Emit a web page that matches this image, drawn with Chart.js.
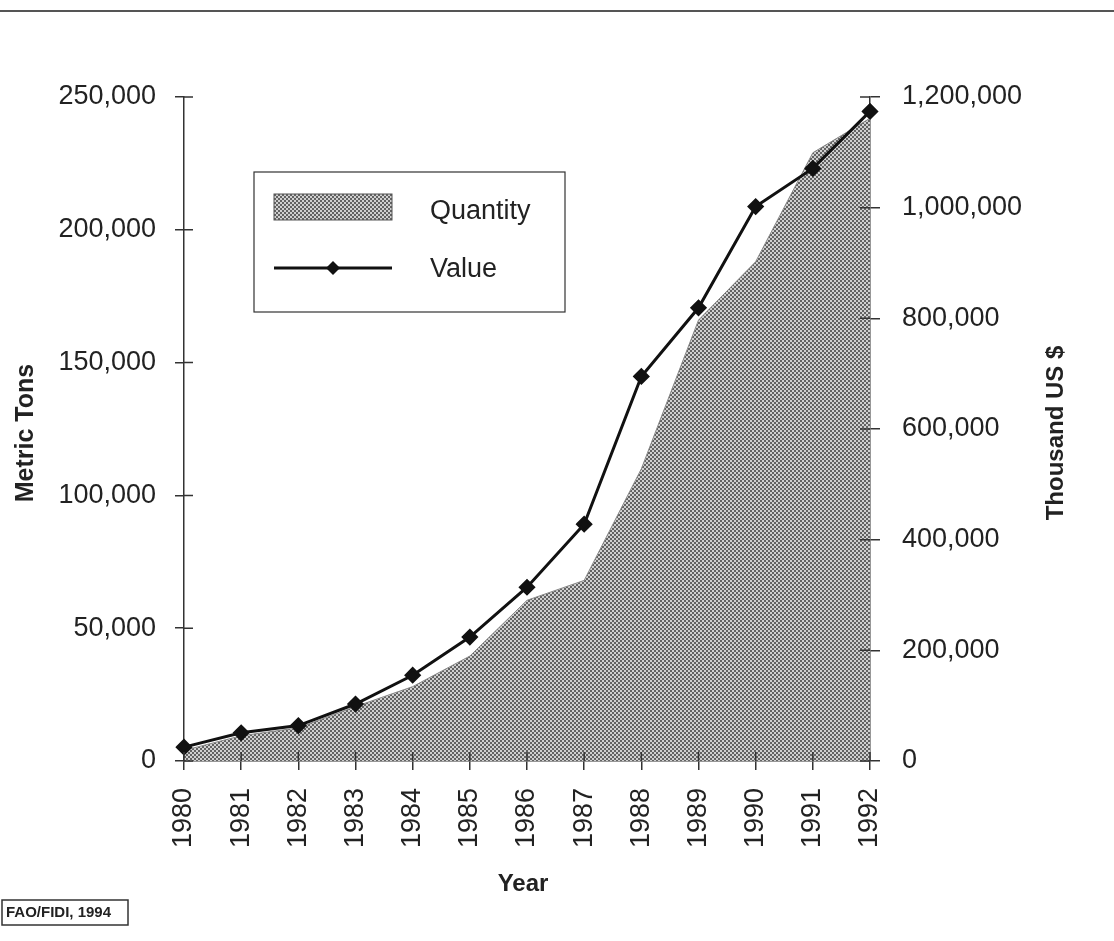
<!DOCTYPE html>
<html>
<head>
<meta charset="utf-8">
<script src="https://cdn.jsdelivr.net/npm/chart.js@4/dist/chart.umd.min.js"></script>
<style>
  html, body { margin: 0; padding: 0; background: #ffffff; }
  #wrap { width: 1114px; height: 941px; position: relative; }
</style>
</head>
<body>
<div id="wrap"><canvas id="c" width="1114" height="941"></canvas></div>
<script>
// ---- Data ----
const years = ['1980','1981','1982','1983','1984','1985','1986','1987','1988','1989','1990','1991','1992'];
const quantityTons = [4000, 9500, 12500, 20500, 28000, 39500, 60500, 68000, 110000, 166000, 188000, 229000, 242000];
const valueThousandUSD = [25000, 51000, 64000, 103000, 155000, 224000, 314000, 428000, 695000, 819000, 1002000, 1071000, 1174000];
const leftTicks = [0, 50000, 100000, 150000, 200000, 250000];
const rightTicks = [0, 200000, 400000, 600000, 800000, 1000000, 1200000];
const seriesNames = ['Quantity', 'Value'];
const axisTitles = { left: 'Metric Tons', right: 'Thousand US $', bottom: 'Year' };
const sourceNote = 'FAO/FIDI, 1994';

const FONT = "'Liberation Sans', Arial, Helvetica, sans-serif";
const INK = '#222222';

// dotted grey fill pattern
function makePattern() {
  const p = document.createElement('canvas');
  p.width = 4; p.height = 4;
  const g = p.getContext('2d');
  g.fillStyle = '#d0d0d0'; g.fillRect(0, 0, 4, 4);
  g.fillStyle = '#626262';
  g.fillRect(0, 0, 2, 2); g.fillRect(2, 2, 2, 2);
  return document.getElementById('c').getContext('2d').createPattern(p, 'repeat');
}
const areaPattern = makePattern();

const fmt = v => Number(v).toLocaleString('en-US');

const decor = {
  id: 'decor',
  beforeDraw(chart) {
    const ctx = chart.ctx;
    ctx.save();
    ctx.fillStyle = '#ffffff';
    ctx.fillRect(0, 0, chart.width, chart.height);
    ctx.strokeStyle = '#555555';
    ctx.lineWidth = 2;
    ctx.beginPath(); ctx.moveTo(0, 11); ctx.lineTo(chart.width, 11); ctx.stroke();
    ctx.restore();
  },
  afterDatasetsDraw(chart) {
    const ctx = chart.ctx;
    const ca = chart.chartArea;
    const sx = chart.scales.x, sy = chart.scales.y, sy1 = chart.scales.y1;
    ctx.save();
    // inner halves of cross ticks
    ctx.strokeStyle = '#333333';
    ctx.lineWidth = 1.5;
    ctx.beginPath();
    sy.ticks.forEach((t, i) => { const y = sy.getPixelForTick(i); ctx.moveTo(ca.left, y); ctx.lineTo(ca.left + 9, y); });
    sy1.ticks.forEach((t, i) => { const y = sy1.getPixelForTick(i); ctx.moveTo(ca.right - 10, y); ctx.lineTo(ca.right, y); });
    sx.ticks.forEach((t, i) => { const x = sx.getPixelForTick(i); ctx.moveTo(x, ca.bottom - 9); ctx.lineTo(x, ca.bottom); });
    ctx.stroke();

    // legend box
    ctx.fillStyle = '#ffffff';
    ctx.fillRect(254, 172, 311, 140);
    ctx.strokeStyle = '#333333';
    ctx.lineWidth = 1.2;
    ctx.strokeRect(254, 172, 311, 140);
    ctx.fillStyle = areaPattern;
    ctx.fillRect(274, 194, 118, 26);
    ctx.strokeStyle = '#555555';
    ctx.lineWidth = 1;
    ctx.strokeRect(274, 194, 118, 26);
    ctx.strokeStyle = '#111111';
    ctx.lineWidth = 3;
    ctx.beginPath(); ctx.moveTo(274, 268); ctx.lineTo(392, 268); ctx.stroke();
    ctx.fillStyle = '#111111';
    ctx.beginPath();
    ctx.moveTo(333, 261); ctx.lineTo(340, 268); ctx.lineTo(333, 275); ctx.lineTo(326, 268); ctx.closePath(); ctx.fill();
    ctx.fillStyle = INK;
    ctx.font = '27px ' + FONT;
    ctx.textAlign = 'left'; ctx.textBaseline = 'middle';
    ctx.fillText(chart.data.datasets[1].label, 430, 212);
    ctx.fillText(chart.data.datasets[0].label, 430, 270);

    // axis titles
    ctx.textAlign = 'center'; ctx.textBaseline = 'middle';
    ctx.font = 'bold 25px ' + FONT;
    ctx.save(); ctx.translate(26, 433); ctx.rotate(-Math.PI / 2); ctx.fillText(axisTitles.left, 0, 0); ctx.restore();
    ctx.font = 'bold 24px ' + FONT;
    ctx.save(); ctx.translate(1056, 433); ctx.rotate(-Math.PI / 2); ctx.fillText(axisTitles.right, 0, 0); ctx.restore();
    ctx.fillText(axisTitles.bottom, 523, 884);

    // source note box
    ctx.strokeStyle = '#333333';
    ctx.lineWidth = 1.5;
    ctx.strokeRect(2, 900, 126, 25);
    ctx.font = 'bold 15px ' + FONT;
    ctx.textAlign = 'left';
    ctx.fillText(sourceNote, 6, 913);
    ctx.restore();
  }
};

new Chart(document.getElementById('c'), {
  type: 'line',
  data: {
    labels: years,
    datasets: [
      {
        label: seriesNames[1],
        data: valueThousandUSD,
        yAxisID: 'y1',
        borderColor: '#111111',
        borderWidth: 3,
        pointStyle: 'rectRot',
        pointRadius: 6.5,
        pointBackgroundColor: '#111111',
        pointBorderColor: '#111111',
        tension: 0,
        fill: false,
        order: 1
      },
      {
        label: seriesNames[0],
        data: quantityTons,
        yAxisID: 'y',
        borderColor: '#888888',
        borderWidth: 1,
        backgroundColor: areaPattern,
        pointRadius: 0,
        tension: 0,
        fill: 'origin',
        order: 2
      }
    ]
  },
  options: {
    responsive: false,
    animation: false,
    layout: { padding: { top: 97, left: 0, right: 0, bottom: 0 } },
    plugins: { legend: { display: false }, tooltip: { enabled: false } },
    scales: {
      x: {
        offset: false,
        afterFit(s) { s.height = 180; },
        grid: { drawOnChartArea: false, drawTicks: true, tickLength: 9, color: '#333333', lineWidth: 1.5 },
        border: { display: true, color: '#333333', width: 1.5 },
        ticks: { minRotation: 90, maxRotation: 90, autoSkip: false, padding: 18, color: INK, font: { family: FONT, size: 27 } }
      },
      y: {
        position: 'left',
        min: 0, max: 250000,
        afterFit(s) { s.width = 184; },
        afterBuildTicks(s) { s.ticks = leftTicks.map(v => ({ value: v })); },
        grid: { drawOnChartArea: false, drawTicks: true, tickLength: 9, color: '#333333', lineWidth: 1.5 },
        border: { display: true, color: '#333333', width: 1.5 },
        ticks: { padding: 19, color: INK, font: { family: FONT, size: 27 }, callback: v => fmt(v) }
      },
      y1: {
        position: 'right',
        min: 0, max: 1200000,
        afterFit(s) { s.width = 244; },
        afterBuildTicks(s) { s.ticks = rightTicks.map(v => ({ value: v })); },
        grid: { drawOnChartArea: false, drawTicks: true, tickLength: 10, color: '#333333', lineWidth: 1.5 },
        border: { display: true, color: '#333333', width: 1.5 },
        ticks: { padding: 22, color: INK, font: { family: FONT, size: 27 }, callback: v => fmt(v) }
      }
    }
  },
  plugins: [decor]
});
</script>
</body>
</html>
